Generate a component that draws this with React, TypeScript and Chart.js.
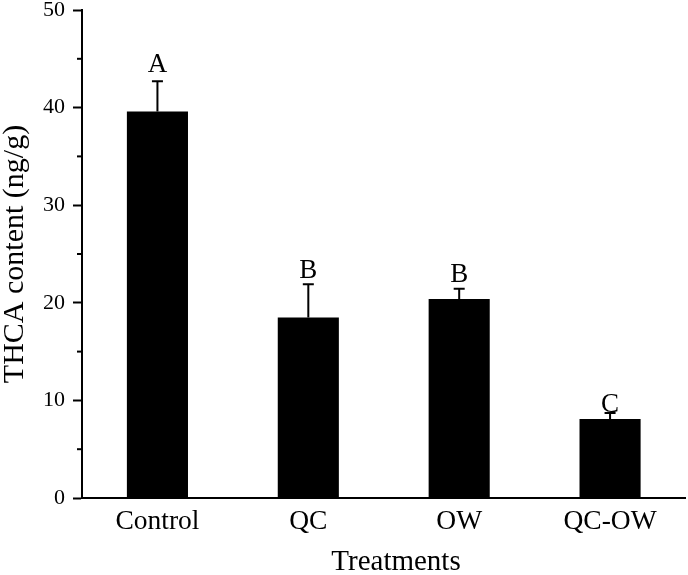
import React, { useEffect, useRef } from 'react';
import { Chart, registerables } from 'chart.js';

Chart.register(...registerables);

const categories = ['Control', 'QC', 'OW', 'QC-OW'];
const means = [39.6, 18.5, 20.4, 8.1];
const errors = [3.1, 3.4, 1.05, 0.6];
const letters = ['A', 'B', 'B', 'C'];
const letterValues = [43.6, 22.5, 22.1, 8.85];
const yMinorTicks = [5, 15, 25, 35, 45];
const yMin = 0;
const yMax = 50;
const yStep = 10;
const yTitle = 'THCA content (ng/g)';
const xTitle = 'Treatments';

const FONT = '"Liberation Serif", "Times New Roman", serif';

const annotPlugin = {
  id: 'annot',
  afterDatasetsDraw(chart: any) {
    const ctx = chart.ctx;
    const ys = chart.scales.y;
    const meta = chart.getDatasetMeta(0);
    const area = chart.chartArea;
    ctx.save();
    ctx.strokeStyle = '#000';
    ctx.fillStyle = '#000';
    ctx.lineWidth = 2;
    meta.data.forEach((bar: any, i: number) => {
      const x = bar.x;
      const yTop = ys.getPixelForValue(means[i] + errors[i]);
      ctx.beginPath();
      ctx.moveTo(x, bar.y);
      ctx.lineTo(x, yTop);
      ctx.moveTo(x - 5.5, yTop);
      ctx.lineTo(x + 5.5, yTop);
      ctx.stroke();
      ctx.font = `27px ${FONT}`;
      ctx.textAlign = 'center';
      ctx.textBaseline = 'alphabetic';
      ctx.fillText(letters[i], x, ys.getPixelForValue(letterValues[i]));
    });
    // minor ticks
    yMinorTicks.forEach((v) => {
      const py = ys.getPixelForValue(v);
      ctx.beginPath();
      ctx.moveTo(area.left - 5, py);
      ctx.lineTo(area.left, py);
      ctx.stroke();
    });
    // axis titles
    ctx.font = `30px ${FONT}`;
    ctx.textAlign = 'center';
    ctx.textBaseline = 'alphabetic';
    ctx.save();
    ctx.translate(23, (area.top + area.bottom) / 2);
    ctx.rotate(-Math.PI / 2);
    ctx.fillText(yTitle, 0, 0);
    ctx.restore();
    ctx.font = `29px ${FONT}`;
    ctx.fillText(xTitle, 396, 570);
    ctx.restore();
  },
};

export default function App() {
  const ref = useRef<HTMLCanvasElement | null>(null);
  useEffect(() => {
    if (!ref.current) return;
    const chart = new Chart(ref.current, {
      type: 'bar',
      data: {
        labels: categories,
        datasets: [
          {
            data: means,
            backgroundColor: '#000',
            borderWidth: 0,
            barPercentage: 0.405,
            categoryPercentage: 1,
          },
        ],
      },
      options: {
        responsive: false,
        animation: false,
        devicePixelRatio: 1,
        layout: { padding: { top: 10, right: 2.5, left: 0, bottom: 0 }, autoPadding: false },
        plugins: { legend: { display: false }, tooltip: { enabled: false } },
        scales: {
          x: {
            afterFit: (s: any) => {
              s.height = 77;
              s.paddingLeft = 0;
              s.paddingRight = 0;
            },
            grid: { display: true, drawOnChartArea: false, drawTicks: false },
            border: { display: true, color: '#000', width: 2 },
            ticks: { color: '#000', font: { family: FONT, size: 27.5 }, padding: 7 },
          },
          y: {
            min: yMin,
            max: yMax,
            afterFit: (s: any) => {
              s.width = 82;
              s.paddingTop = 0;
              s.paddingBottom = 0;
            },
            grid: {
              drawOnChartArea: false,
              drawTicks: true,
              tickLength: 9,
              tickWidth: 2,
              tickColor: '#000',
            },
            border: { display: true, color: '#000', width: 2 },
            ticks: {
              stepSize: yStep,
              color: '#000',
              font: { family: FONT, size: 22, lineHeight: 1 },
              padding: 8,
            },
          },
        },
      },
      plugins: [annotPlugin],
    });
    return () => chart.destroy();
  }, []);
  return (
    <div style={{ position: 'absolute', left: 0, top: 0, width: 688, height: 575, background: '#fff' }}>
      <canvas ref={ref} width={688} height={575} style={{ display: 'block' }} />
    </div>
  );
}
